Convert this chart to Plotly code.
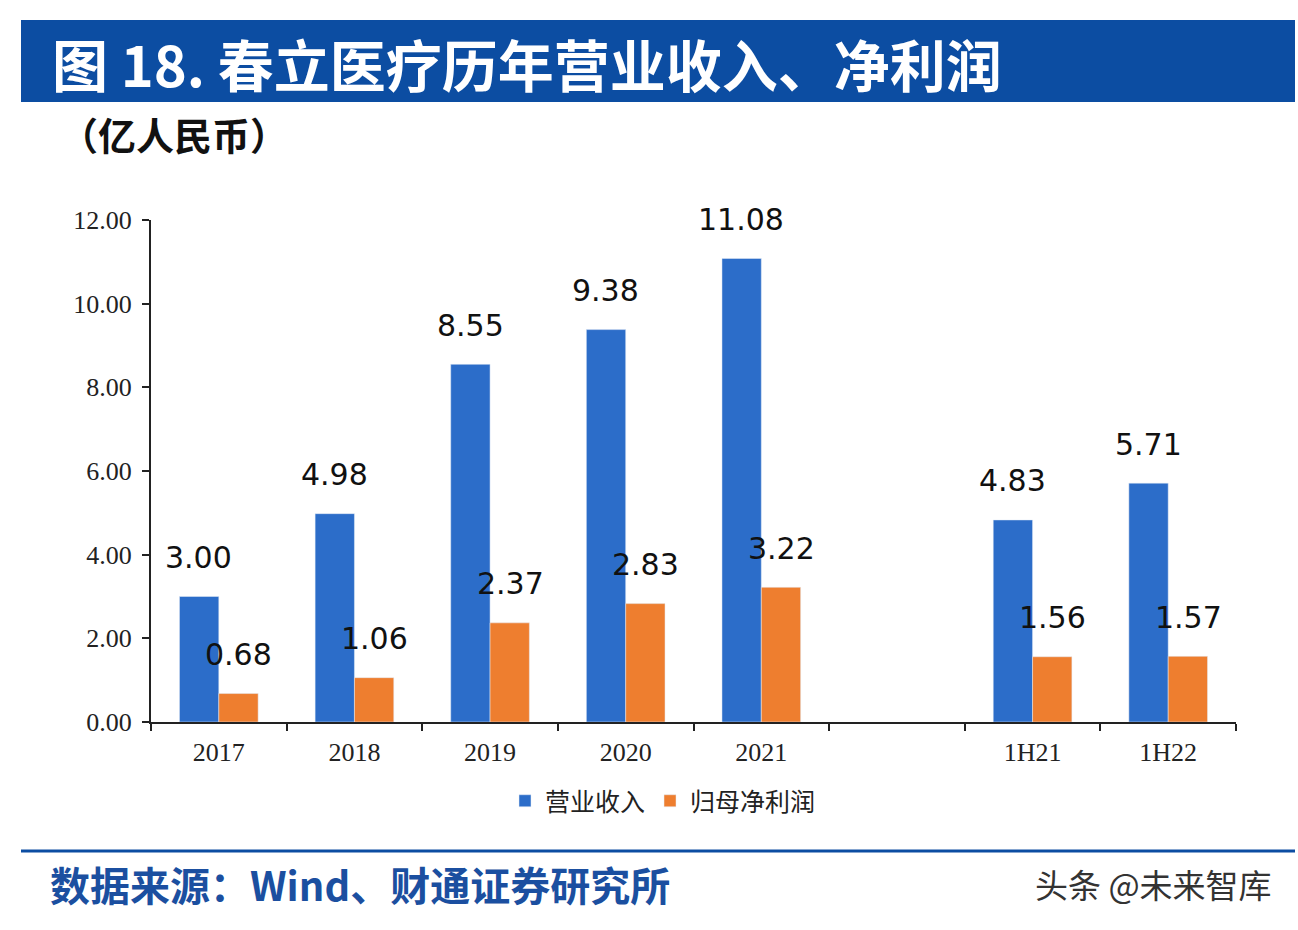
import plotly.graph_objects as go

categories = ["2017", "2018", "2019", "2020", "2021", " ", "1H21", "1H22"]
revenue = [3.00, 4.98, 8.55, 9.38, 11.08, None, 4.83, 5.71]
net_profit = [0.68, 1.06, 2.37, 2.83, 3.22, None, 1.56, 1.57]
y_ticks = [0, 2, 4, 6, 8, 10, 12]
series_names = ["营业收入", "归母净利润"]

BLUE = "#2C6DC9"
ORANGE = "#EE7E2F"
BANNER = "#0C4DA2"
CJK = "Noto Sans CJK SC"

# plot area in pixels
L, R, T, B = 151, 1236, 220, 722
W, H = 1298, 930


def px(x):
    return (x - L) / (R - L)


def py(y):
    return (B - y) / (B - T)


fig = go.Figure()
fig.add_trace(go.Bar(x=categories, y=revenue, name=series_names[0], marker_color=BLUE))
fig.add_trace(go.Bar(x=categories, y=net_profit, name=series_names[1], marker_color=ORANGE))

annotations = []
for series, shift in ((revenue, -20), (net_profit, 20)):
    for i, v in enumerate(series):
        if v is None:
            continue
        annotations.append(dict(x=i, y=v, xref="x", yref="y", text=f"{v:.2f}", showarrow=False,
                                xshift=shift, yshift=39, yanchor="middle",
                                font=dict(family="DejaVu Sans", size=30, color="#111111")))

# title & texts
annotations.append(dict(x=px(50), y=py(62), xref="paper", yref="paper", xanchor="left", yanchor="middle",
                        text="<b>图 18. 春立医疗历年营业收入、净利润</b>", showarrow=False,
                        font=dict(family=CJK, size=56, color="white")))
annotations.append(dict(x=px(58), y=py(134), xref="paper", yref="paper", xanchor="left", yanchor="middle",
                        text="<b>（亿人民币）</b>", showarrow=False,
                        font=dict(family=CJK, size=38, color="#111111")))
annotations.append(dict(x=px(48), y=py(884), xref="paper", yref="paper", xanchor="left", yanchor="middle",
                        text="<b>数据来源：Wind、财通证券研究所</b>", showarrow=False,
                        font=dict(family=CJK, size=40, color="#1B4FA0")))
annotations.append(dict(x=px(1274), y=py(884), xref="paper", yref="paper", xanchor="right", yanchor="middle",
                        text="头条 @未来智库", showarrow=False,
                        font=dict(family=CJK, size=33, color="#333333")))

shapes = [
    dict(type="rect", xref="paper", yref="paper", x0=px(21), x1=px(1295), y0=py(20), y1=py(102),
         fillcolor=BANNER, line=dict(width=0), layer="below"),
    dict(type="line", xref="paper", yref="paper", x0=px(21), x1=px(1295), y0=py(851), y1=py(851),
         line=dict(color=BANNER, width=3)),
]

fig.update_layout(
    width=W, height=H, autosize=False,
    margin=dict(l=L, r=W - R, t=T, b=H - B, pad=0),
    paper_bgcolor="white", plot_bgcolor="white",
    barmode="group", bargap=0.42, bargroupgap=0,
    showlegend=True,
    legend=dict(orientation="h", x=px(663), y=py(801), xanchor="center", yanchor="middle",
                font=dict(family=CJK, size=25, color="#222222"), itemwidth=30,
                bgcolor="rgba(0,0,0,0)"),
    annotations=annotations,
    shapes=shapes,
    xaxis=dict(type="category", categoryorder="array", categoryarray=categories,
               tickson="boundaries", ticks="outside", ticklen=7, tickwidth=2, tickcolor="#222222",
               showline=True, linecolor="#222222", linewidth=2, showgrid=False, zeroline=False,
               tickfont=dict(family="Liberation Serif", size=26, color="#222222"),
               ticklabelstandoff=6,
               range=[-0.5, len(categories) - 0.5], fixedrange=True),
    yaxis=dict(range=[0, 12], tickvals=y_ticks, tickformat=".2f", ticks="outside", ticklen=7,
               tickwidth=2, tickcolor="#222222", showline=True, linecolor="#222222", linewidth=2,
               showgrid=False, zeroline=False, ticklabelstandoff=5,
               tickfont=dict(family="Liberation Serif", size=26, color="#222222"), fixedrange=True),
)

fig.write_html("out.html", config={"displayModeBar": False},
               post_script="document.body.style.margin='0';")
